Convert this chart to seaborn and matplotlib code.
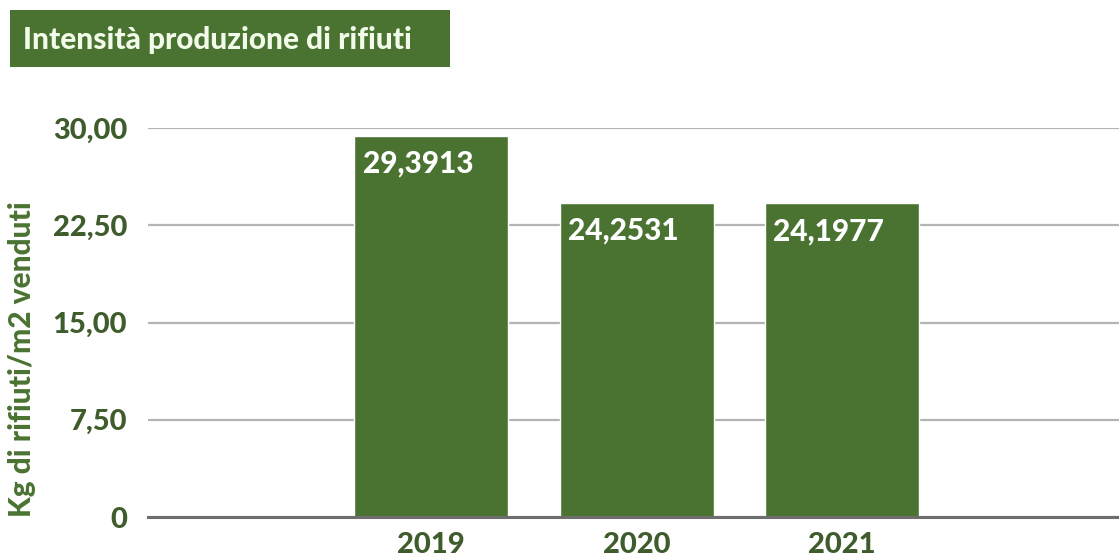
import matplotlib
matplotlib.use("Agg")
import matplotlib.pyplot as plt
from matplotlib.patches import Rectangle
import seaborn as sns
import pandas as pd

# Waste production intensity per year
years = ["2019", "2020", "2021"]
values = [29.3913, 24.2531, 24.1977]
value_labels = ["29,3913", "24,2531", "24,1977"]
y_ticks = [0, 7.5, 15, 22.5, 30]
y_tick_labels = ["0", "7,50", "15,00", "22,50", "30,00"]

title = "Intensità produzione di rifiuti"
y_title = "Kg di rifiuti/m2 venduti"

GREEN = "#4a7332"
DARK_GREEN = "#3f5c2c"
WEIGHT = "black"

sns.set_theme(style="white")
plt.rcParams["font.family"] = ["Lato", "DejaVu Sans"]

df = pd.DataFrame({"anno": years, "valore": values})

W, H = 1119, 558
fig = plt.figure(figsize=(W / 100, H / 100), dpi=100)
ax = fig.add_axes([148 / W, (H - 517) / H, 1 - 148 / W, (517 - 128) / H])

sns.barplot(data=df, x="anno", y="valore", color=GREEN, saturation=1,
            width=0.75, ax=ax, zorder=3)

ax.set_ylim(0, 30)
ax.set_xlim(-1.38, 3.35)
ax.set_yticks(y_ticks)
ax.set_yticklabels(y_tick_labels)
ax.yaxis.grid(True, color="#b4b4b4", linewidth=1.6, zorder=0)
ax.set_axisbelow(True)
for s in ["top", "right", "left"]:
    ax.spines[s].set_visible(False)
ax.spines["bottom"].set_color("#6e6e6e")
ax.spines["bottom"].set_linewidth(2.2)
ax.spines["bottom"].set_zorder(4)

ax.tick_params(axis="y", length=0, pad=15, labelsize=21, labelcolor=DARK_GREEN)
ax.tick_params(axis="x", length=0, pad=11, labelsize=21, labelcolor=DARK_GREEN)
for lbl in ax.get_yticklabels() + ax.get_xticklabels():
    lbl.set_fontweight(WEIGHT)

ax.set_xlabel("")
ax.set_ylabel("")

# Value labels inside the top-left corner of each bar
for patch, txt in zip(ax.patches, value_labels):
    ax.annotate(txt, xy=(patch.get_x(), patch.get_height()),
                xytext=(6, -10), textcoords="offset points",
                ha="left", va="top", color="white", fontsize=21.5,
                fontweight=WEIGHT, zorder=5)

# Rotated axis title
fig.text(22 / W, 1 - 359 / H, y_title, rotation=90, ha="center", va="center",
         fontsize=21.5, fontweight=WEIGHT, color=GREEN)

# Title banner
fig.patches.append(Rectangle((10 / W, 1 - 67 / H), 440 / W, 57 / H,
                             transform=fig.transFigure, facecolor=GREEN,
                             edgecolor="none", zorder=1))
fig.text(23 / W, 1 - 40 / H, title, ha="left", va="center", fontsize=21.4,
         fontweight=WEIGHT, color="#f2fbe9", zorder=2)

fig.savefig("out.png", dpi=100, facecolor="white")
